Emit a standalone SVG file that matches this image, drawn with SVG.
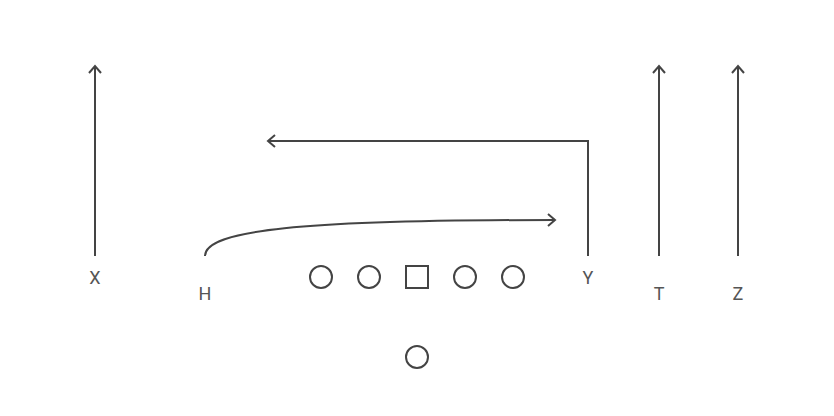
<svg xmlns="http://www.w3.org/2000/svg" width="834" height="416" viewBox="0 0 834 416">
<style>
.route{fill:none;stroke:#444;stroke-width:2}
.pl{fill:none;stroke:#444;stroke-width:2}
.lbl{font-family:Roboto,"Liberation Sans",sans-serif;font-size:18px;fill:#555;text-anchor:middle}
</style>
<defs>
<marker id="arr" viewBox="0 0 12 14" refX="10" refY="7" markerWidth="12" markerHeight="14" markerUnits="userSpaceOnUse" orient="auto">
<path d="M3,1 L10,7 L3,13" fill="none" stroke="#444" stroke-width="2"/>
</marker>
</defs>
<rect width="834" height="416" fill="#fff"/>
<g id="connectors">
<path class="route" d="M95,256 L95,66" marker-end="url(#arr)"/>
<path class="route" d="M205,256 C205,230 300,220 555,220" marker-end="url(#arr)"/>
<path class="route" d="M588,256 L588,141 L268,141" marker-end="url(#arr)"/>
<path class="route" d="M659,256 L659,66" marker-end="url(#arr)"/>
<path class="route" d="M738,256 L738,66" marker-end="url(#arr)"/>
</g>
<g id="X"><text class="lbl" x="95" y="284">X</text></g>
<g id="H"><text class="lbl" x="205" y="300">H</text></g>
<g id="Y"><text class="lbl" x="588" y="284">Y</text></g>
<g id="T"><text class="lbl" x="659" y="300">T</text></g>
<g id="Z"><text class="lbl" x="738" y="300">Z</text></g>
<g id="LT"><circle class="pl" cx="321" cy="277" r="11"/></g>
<g id="LG"><circle class="pl" cx="369" cy="277" r="11"/></g>
<g id="C"><rect class="pl" x="406" y="266" width="22" height="22"/></g>
<g id="RG"><circle class="pl" cx="465" cy="277" r="11"/></g>
<g id="RT"><circle class="pl" cx="513" cy="277" r="11"/></g>
<g id="QB"><circle class="pl" cx="417" cy="357" r="11"/></g>
</svg>
